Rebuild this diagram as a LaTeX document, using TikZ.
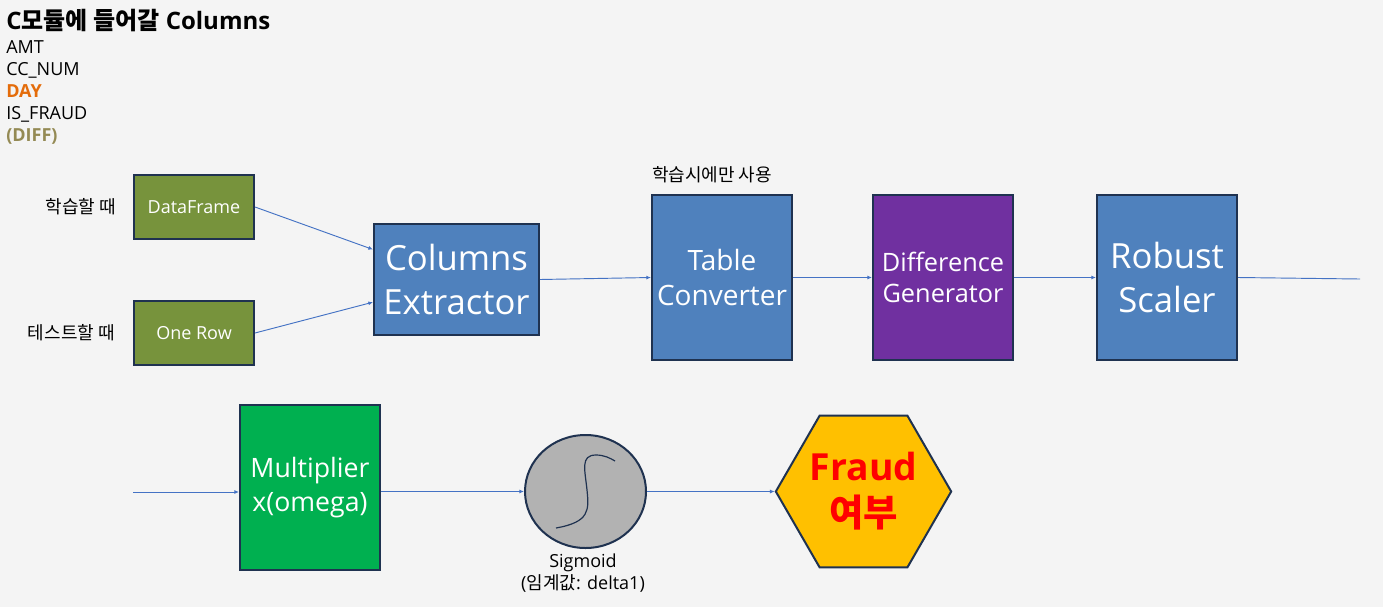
\documentclass[tikz,border=0pt]{standalone}
\usepackage{fontspec}
\setmainfont{Open Sans}
\newfontfamily\kr{Noto Sans CJK KR}
\usetikzlibrary{arrows.meta,shapes.geometric}

\definecolor{bgray}{HTML}{F4F4F4}
\definecolor{boxline}{HTML}{1F3250}
\definecolor{boxblue}{HTML}{4F81BD}
\definecolor{boxolive}{HTML}{77933C}
\definecolor{boxpurple}{HTML}{7030A0}
\definecolor{boxgreen}{HTML}{00B050}
\definecolor{sigray}{HTML}{B2B2B2}
\definecolor{hexgold}{HTML}{FFC000}
\definecolor{flowblue}{HTML}{4472C4}
\definecolor{dayorange}{HTML}{E46C0A}
\definecolor{difftan}{HTML}{948A54}

\newcommand{\fs}[1]{\fontsize{#1pt}{1.2\dimexpr#1pt\relax}\selectfont}

\tikzset{
  blockbox/.style={draw=boxline, line width=1.5pt, inner sep=0pt, align=center, text=white},
  flow/.style={draw=flowblue, line width=0.7pt, -{Latex[length=3.5pt,width=3pt]}},
  note/.style={inner sep=0pt, font=\kr\fs{13.5}},
  colname/.style={anchor=base west, inner sep=0pt, font=\fs{13.5}},
}

\begin{document}
\begin{tikzpicture}[x=0.75pt, y=-0.75pt]
    \fill[bgray] (0,0) rectangle (1383,607);
    \useasboundingbox (0,0) rectangle (1383,607);

    % column list
    \node[colname, font=\bfseries\fs{18}] (title) at (6,29) {C{\kr 모듈에 들어갈} Columns};
    \node[colname] (amt) at (6,53) {AMT};
    \node[colname] (ccnum) at (6,75) {CC\_NUM};
    \node[colname, font=\bfseries\fs{13.5}, text=dayorange] (day) at (6,97) {DAY};
    \node[colname] (isfraud) at (6,119) {IS\_FRAUD};
    \node[colname, font=\bfseries\fs{13.5}, text=difftan] (diff) at (6,141) {(DIFF)};

    % first row
    \node[blockbox, fill=boxolive, minimum width=90pt, minimum height=48pt, font=\fs{13.5}] (frame) at (194,207) {DataFrame};
    \node[blockbox, fill=boxolive, minimum width=90pt, minimum height=48pt, font=\fs{13.5}] (onerow) at (194,333) {One Row};
    \node[note, anchor=east] (train) at (116,207) {학습할 때};
    \node[note, anchor=east] (test) at (115,333) {테스트할 때};

    \node[blockbox, fill=boxblue, minimum width=123.75pt, minimum height=83.25pt, font=\fs{26}] (extractor) at (456.5,279.5) {Columns\\[2pt]Extractor};
    \node[blockbox, fill=boxblue, minimum width=105pt, minimum height=123.75pt, font=\fs{21}] (table) at (722,277.5) {Table\\[1pt]Converter};
    \node[note] (trainonly) at (712,175) {학습시에만 사용};
    \node[blockbox, fill=boxpurple, minimum width=105pt, minimum height=123.75pt, font=\fs{19}] (diffgen) at (943,277.5) {Difference\\[1pt]Generator};
    \node[blockbox, fill=boxblue, minimum width=105pt, minimum height=123.75pt, font=\fs{26}] (scaler) at (1167,277.5) {Robust\\[2pt]Scaler};
    \coordinate (scalerout) at (1360,279);

    \draw[flow] (frame.east) -- ([yshift=22.5pt]extractor.west);
    \draw[flow] (onerow.east) -- ([yshift=-17pt]extractor.west);
    \draw[flow] (extractor.east) -- (table.west);
    \draw[flow] (table.east) -- (diffgen.west);
    \draw[flow] (diffgen.east) -- (scaler.west);
    \draw[draw=flowblue, line width=0.7pt] (scaler.east) -- (scalerout);

    % second row
    \coordinate (multin) at (133,492);
    \node[blockbox, fill=boxgreen, minimum width=105pt, minimum height=123.75pt, font=\fs{20}] (mult) at (310,487.5) {Multiplier\\[1pt]x(omega)};
    \node[ellipse, draw=boxline, line width=1.5pt, fill=sigray, minimum width=90.75pt, minimum height=84.75pt, inner sep=0pt] (sig) at (585.5,491.5) {};
    \draw[boxline, line width=0.9pt] (556,528) .. controls (590,522) and (589,510) .. (587,490)
        .. controls (585,470) and (580,455) .. (596,455) .. controls (604,455) and (610,458) .. (615,461);
    \node[inner sep=0pt, align=center, font=\fs{13.5}] (siglabel) at (583,573) {Sigmoid\\({\kr 임계값}: delta1)};
    \node[regular polygon, regular polygon sides=6, draw=boxline, line width=1.5pt,
          fill=hexgold, minimum size=126.75pt, inner sep=0pt, align=center, text=red,
          font=\bfseries\fs{28}] (fraud) at (863.5,491.5) {Fraud\\[1pt]{\kr\bfseries 여부}};

    \draw[flow] (multin) -- (multin -| mult.west);
    \draw[flow] (mult.east |- sig.west) -- (sig.west);
    \draw[flow] (sig.east) -- (fraud.west);
\end{tikzpicture}
\end{document}
